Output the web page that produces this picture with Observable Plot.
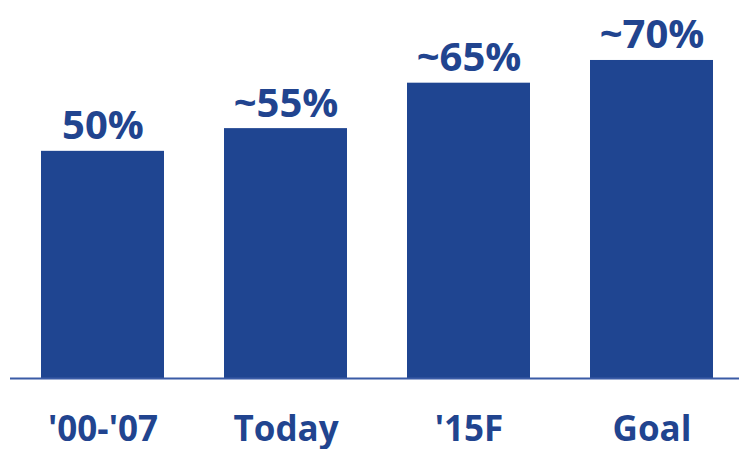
<!DOCTYPE html>
<html>
<head>
<meta charset="utf-8">
<script src="https://cdn.jsdelivr.net/npm/d3@7"></script>
<script src="https://cdn.jsdelivr.net/npm/@observablehq/plot@0.6"></script>
<style>
  html, body { margin: 0; padding: 0; background: #ffffff; }
  #chart svg { display: block; }
</style>
</head>
<body>
<div id="chart"></div>
<script>
const categories = ["'00-'07", "Today", "'15F", "Goal"];
const values = [50, 55, 65, 70];
const valueLabels = ["50%", "~55%", "~65%", "~70%"];

const data = categories.map((c, i) => ({category: c, value: values[i], label: valueLabels[i]}));

const barColor = "#1f4591";
const textColor = "#21448f";
const font = "'Open Sans', 'DejaVu Sans', sans-serif";

const chart = Plot.plot({
  width: 739,
  height: 449,
  marginLeft: 10,
  marginRight: 0,
  marginTop: 0,
  marginBottom: 71,
  style: {fontFamily: font, background: "#ffffff"},
  x: {domain: categories, paddingInner: 0.327, paddingOuter: 0.15, align: 0.545, axis: null},
  y: {domain: [0, 83.2], axis: null},
  marks: [
    Plot.barY(data, {x: "category", y: "value", fill: barColor}),
    Plot.ruleY([0], {stroke: "#3a5ba6", strokeWidth: 2}),
    Plot.text(data, {
      x: "category", y: "value", text: "label",
      lineAnchor: "bottom", dy: -12,
      fontSize: 40, fontWeight: 700, fill: textColor
    }),
    Plot.text(data, {
      x: "category", text: "category",
      frameAnchor: "bottom", lineAnchor: "bottom", dy: 62,
      fontSize: 35, fontWeight: 700, fill: textColor
    })
  ]
});
document.getElementById("chart").appendChild(chart);
</script>
</body>
</html>
